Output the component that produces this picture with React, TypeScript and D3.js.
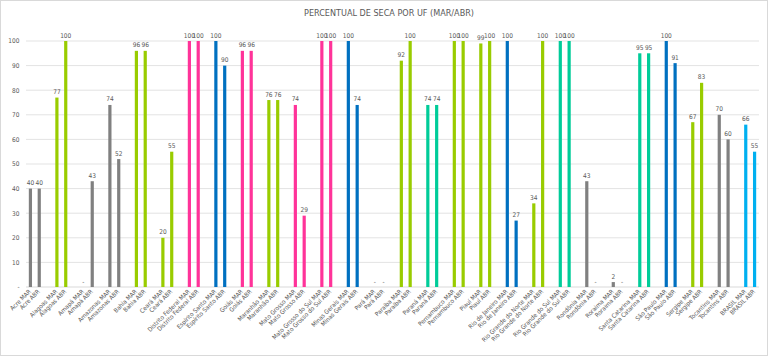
import React from "react";
import * as d3 from "d3";

const states = [
  "Acre", "Alagoas", "Amapá", "Amazonas", "Bahia", "Ceará", "Distrito Federal",
  "Espírito Santo", "Goiás", "Maranhão", "Mato Grosso", "Mato Grosso do Sul",
  "Minas Gerais", "Pará", "Paraíba", "Paraná", "Pernambuco", "Piauí",
  "Rio de Janeiro", "Rio Grande do Norte", "Rio Grande do Sul", "Rondônia",
  "Roraima", "Santa Catarina", "São Paulo", "Sergipe", "Tocantins", "BRASIL",
];
const marValues = [40, 77, 0, 74, 96, 20, 100, 100, 96, 76, 74, 100, 100, 0, 92, 74, 100, 99, 100, 34, 100, 43, 2, 95, 100, 67, 70, 66];
const abrValues = [40, 100, 43, 52, 96, 55, 100, 90, 96, 76, 29, 100, 74, 0, 100, 74, 100, 100, 27, 100, 100, 0, 0, 95, 91, 83, 60, 55];
const regions = [
  "N", "NE", "N", "N", "NE", "NE", "CO", "SE", "CO", "NE", "CO", "CO", "SE", "N",
  "NE", "S", "NE", "NE", "SE", "NE", "S", "N", "N", "S", "SE", "NE", "N", "BR",
];
const regionColors: Record<string, string> = {
  N: "#808080", NE: "#99cc00", CO: "#ff3399", SE: "#0070c0", S: "#00cc99", BR: "#00b0f0",
};
const yTicks = [0, 10, 20, 30, 40, 50, 60, 70, 80, 90, 100];
const title = "PERCENTUAL DE SECA POR UF (MAR/ABR)";
const monthTags = ["MAR", "ABR"];

const W = 768, H = 356;
const FONT = "'Liberation Sans Narrow', 'DejaVu Sans Condensed', 'Liberation Sans', Arial, sans-serif";
const TXT = "#595959";

export default function App() {
  type Cat = { key: string; label: string; value: number | null; color: string };
  const cats: Cat[] = [];
  states.forEach((s, i) => {
    cats.push({ key: `${s} MAR`, label: `${s} ${monthTags[0]}`, value: marValues[i], color: regionColors[regions[i]] });
    cats.push({ key: `${s} ABR`, label: `${s} ${monthTags[1]}`, value: abrValues[i], color: regionColors[regions[i]] });
    if (i < states.length - 1) cats.push({ key: `gap${i}`, label: "", value: null, color: "none" });
  });

  const x = d3.scaleBand<string>().domain(cats.map((c) => c.key)).range([26, 759]).padding(0);
  const y = d3.scaleLinear().domain([0, 100]).range([287, 41]);
  const bw = 3.2;

  return (
    <svg width={W} height={H} style={{ position: "absolute", left: 0, top: 0 }} fontFamily={FONT}>
      <rect x={0} y={0} width={W} height={H} fill="#fff" />
      <rect x={0.5} y={0.5} width={W - 1} height={H - 1} fill="none" stroke="#d9d9d9" />
      <text x={389} y={16} textAnchor="middle" fontSize={9} fill={TXT}>{title}</text>
      {yTicks.map((t) => (
        <g key={t}>
          {t > 0 && <line x1={26} x2={759} y1={y(t)} y2={y(t)} stroke="#e3e3e3" strokeWidth={1} />}
          <text x={19.5} y={y(t) + 2.3} textAnchor="end" fontSize={6.5} fill={TXT}>{t === 0 ? "-" : t}</text>
        </g>
      ))}
      <line x1={26} x2={759} y1={y(0)} y2={y(0)} stroke="#d9d9d9" strokeWidth={1} />
      {cats.map((c) => {
        if (c.value === null) return null;
        const cx = (x(c.key) as number) + x.bandwidth() / 2;
        return (
          <g key={c.key}>
            {c.value > 0 && (
              <rect x={cx - bw / 2} y={y(c.value)} width={bw} height={y(0) - y(c.value)} fill={c.color} />
            )}
            <text x={cx} y={y(c.value) - 3.5} textAnchor="middle" fontSize={6.5} fill={TXT}>
              {c.value === 0 ? "-" : c.value}
            </text>
            <text
              x={cx + 1}
              y={292}
              textAnchor="end"
              fontSize={6.2}
              fill={TXT}
              transform={`rotate(-45 ${cx + 1} 292)`}
            >
              {c.label}
            </text>
          </g>
        );
      })}
    </svg>
  );
}
